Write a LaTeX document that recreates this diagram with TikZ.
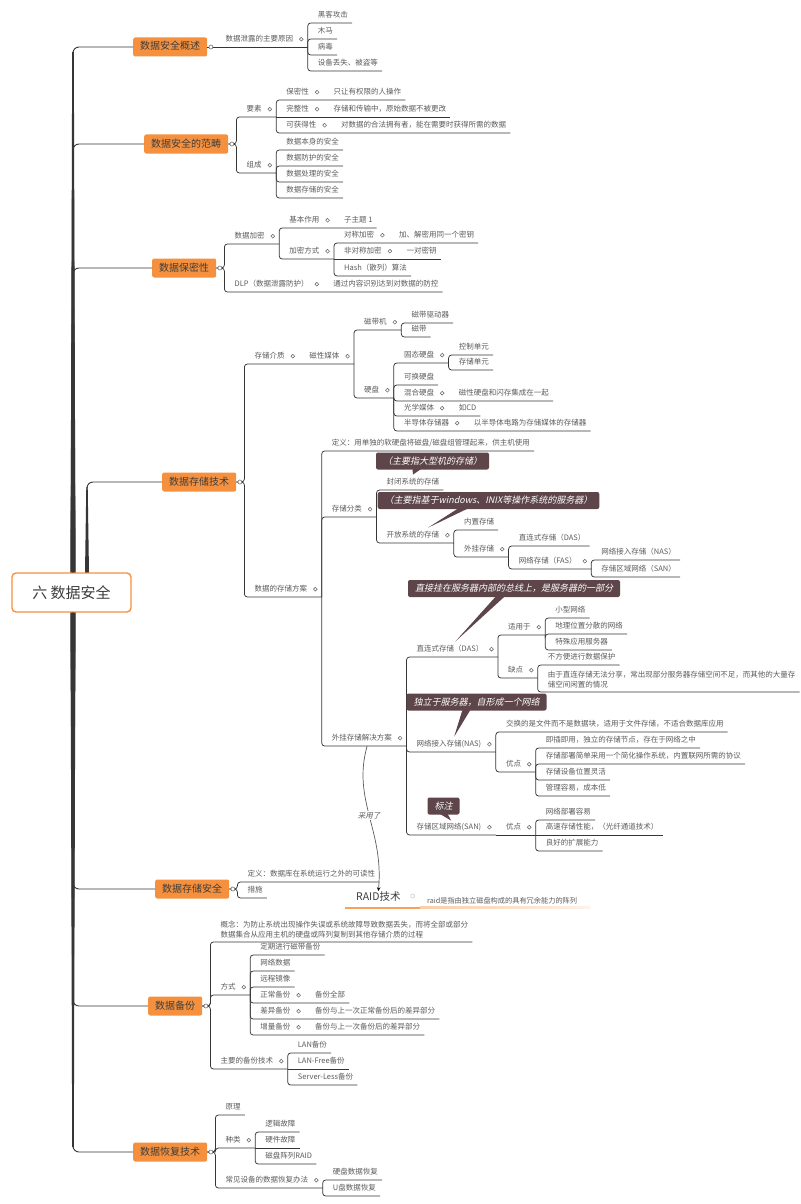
\documentclass[tikz,border=0pt]{standalone}
\usepackage{fontspec}
\setmainfont{Noto Sans CJK SC}
\newfontfamily\notefont[FakeSlant=0.22]{Noto Sans CJK SC}
\usetikzlibrary{calc}

\definecolor{brandor}{HTML}{F5913E}
\definecolor{inkdk}{HTML}{3C3C3C}
\definecolor{inkmd}{HTML}{5C5C5C}
\definecolor{linecol}{HTML}{363636}
\definecolor{notecol}{HTML}{5D454A}

\tikzset{
  root/.style={draw=brandor, line width=1.4pt, fill=white, rounded corners=4pt,
    minimum width=119pt, minimum height=39pt, text=inkdk, font=\fontsize{15}{18}\selectfont},
  branch/.style={fill=brandor, rounded corners=2pt, anchor=west, inner xsep=7pt,
    minimum height=19pt, text height=8pt, text depth=2pt, text=inkdk, font=\fontsize{10}{12}\selectfont},
  topic/.style={anchor=south west, xshift=6pt, inner xsep=4pt, inner ysep=4pt,
    text height=6pt, text depth=1pt, text=inkmd, font=\fontsize{7.5}{10}\selectfont},
  para/.style={anchor=south west, xshift=6pt, inner xsep=4pt, inner ysep=4pt,
    align=left, text=inkmd, font=\fontsize{7.5}{10}\selectfont},
  link/.style={draw=linecol, line width=0.75pt, rounded corners=3pt},
  twig/.style={draw=linecol, line width=0.9pt, rounded corners=6pt},
  trunk/.style={fill=linecol},
  knob/.style={draw=linecol!70, fill=white, line width=0.6pt},
  note/.style={fill=notecol, rounded corners=2pt, inner xsep=7pt, minimum height=17pt,
    text height=7.5pt, text depth=1.5pt, text=white, font=\notefont\fontsize{9}{11}\selectfont},
  rel/.style={draw=inkmd, line width=0.7pt, -stealth},
}
\newcommand\kn{\hspace{6pt}\tikz[baseline=-2.6pt]\draw[knob] (0,0) circle (1.9pt);\hspace{-1.5pt}}

\begin{document}
\begin{tikzpicture}[x=1pt,y=-1pt]
\useasboundingbox[fill=white] (0,0) rectangle (800,1204);

% trunk
\fill[trunk] (70.5,573) -- (75.5,573) -- (73.8,52) -- (72.2,52) -- cycle;
\fill[trunk] (70.5,573) -- (75.5,573) -- (73.8,149) -- (72.2,149) -- cycle;
\fill[trunk] (70.5,573) -- (75.5,573) -- (73.8,273) -- (72.2,273) -- cycle;
\fill[trunk] (85,573) -- (89,573) -- (87.7,487) -- (86.3,487) -- cycle;
\fill[trunk] (70.5,612) -- (75.5,612) -- (73.8,884) -- (72.2,884) -- cycle;
\fill[trunk] (70.5,612) -- (75.5,612) -- (73.8,1001) -- (72.2,1001) -- cycle;
\fill[trunk] (70.5,612) -- (75.5,612) -- (73.8,1147) -- (72.2,1147) -- cycle;

\node[root] (R) at (71.5,592.5) {六 数据安全};
\node[branch] (A) at (133,47) {数据安全概述};
\node[branch] (B) at (144,144) {数据安全的范畴};
\node[branch] (C) at (152,268) {数据保密性};
\node[branch] (D) at (162,482) {数据存储技术};
\node[branch] (E) at (155,889) {数据存储安全};
\node[branch] (F) at (148,1006) {数据备份};
\node[branch] (G) at (133,1152) {数据恢复技术};

\foreach \b in {A,B,C} \draw[twig] (R.north -| 73,0) |- (\b.west);
\draw[twig] (R.north -| 87,0) |- (D.west);
\foreach \b in {E,F,G} \draw[twig] (R.south -| 73,0) |- (\b.west);
\foreach \b in {A,...,G} \path (\b.east) ++(8,0) coordinate (\b b);

% 数据安全概述
\node[topic] (A1) at (Ab |- 0,47) {数据泄露的主要原因\kn};
\node[topic] (A11) at (A1.south east |- 0,23) {黑客攻击};
\node[topic] (A12) at (A1.south east |- 0,39) {木马};
\node[topic] (A13) at (A1.south east |- 0,55) {病毒};
\node[topic] (A14) at (A1.south east |- 0,71) {设备丢失、被盗等};
\draw[link] (A.east) -- (A1.south east);
\foreach \k in {1,...,4} \draw[link] (A1.south east) |- (A1\k.south east);

% 数据安全的范畴
\node[topic] (B1) at (Bb |- 0,117) {要素\kn};
\node[topic] (B11) at (B1.south east |- 0,100) {保密性\kn};
\node[topic] (B11t) at (B11.south east) {只让有权限的人操作};
\node[topic] (B12) at (B1.south east |- 0,117) {完整性\kn};
\node[topic] (B12t) at (B12.south east) {存储和传输中，原始数据不被更改};
\node[topic] (B13) at (B1.south east |- 0,133) {可获得性\kn};
\node[topic] (B13t) at (B13.south east) {对数据的合法拥有者，能在需要时获得所需的数据};
\node[topic] (B2) at (Bb |- 0,173) {组成\kn};
\node[topic] (B21) at (B2.south east |- 0,150) {数据本身的安全};
\node[topic] (B22) at (B2.south east |- 0,166) {数据防护的安全};
\node[topic] (B23) at (B2.south east |- 0,182) {数据处理的安全};
\node[topic] (B24) at (B2.south east |- 0,198) {数据存储的安全};
\foreach \k in {1,2} \draw[link] (B.east) -- (Bb) |- (B\k.south east);
\draw[link] (B1.south east) |- (B11t.south east);
\draw[link] (B1.south east) -- (B12t.south east);
\draw[link] (B1.south east) |- (B13t.south east);
\foreach \k in {1,...,4} \draw[link] (B2.south east) |- (B2\k.south east);

% 数据保密性
\node[topic] (C1) at (Cb |- 0,244) {数据加密\kn};
\node[topic] (C11) at (C1.south east |- 0,228) {基本作用\kn};
\node[topic] (C11t) at (C11.south east) {子主题 1};
\node[topic] (C12) at (C1.south east |- 0,259) {加密方式\kn};
\node[topic] (C121) at (C12.south east |- 0,243) {对称加密\kn};
\node[topic] (C121t) at (C121.south east) {加、解密用同一个密钥};
\node[topic] (C122) at (C12.south east |- 0,259) {非对称加密\kn};
\node[topic] (C122t) at (C122.south east) {一对密钥};
\node[topic] (C123) at (C12.south east |- 0,276) {Hash（散列）算法};
\node[topic] (C2) at (Cb |- 0,292) {DLP（数据泄露防护）\kn};
\node[topic] (C2t) at (C2.south east) {通过内容识别达到对数据的防控};
\draw[link] (C.east) -- (Cb) |- (C1.south east);
\draw[link] (C.east) -- (Cb) |- (C2t.south east);
\draw[link] (C1.south east) |- (C11t.south east);
\draw[link] (C1.south east) |- (C12.south east);
\draw[link] (C12.south east) |- (C121t.south east);
\draw[link] (C12.south east) -- (C122t.south east);
\draw[link] (C12.south east) |- (C123.south east);

% 数据存储技术
\node[topic] (D1) at (Db |- 0,364) {存储介质\kn};
\node[topic] (D1t) at (D1.south east) {磁性媒体\kn};
\node[topic] (D11) at (D1t.south east |- 0,330) {磁带机\kn};
\node[topic] (D111) at (D11.south east |- 0,323) {磁带驱动器};
\node[topic] (D112) at (D11.south east |- 0,337) {磁带};
\node[topic] (D12) at (D1t.south east |- 0,398) {硬盘\kn};
\node[topic] (D121) at (D12.south east |- 0,363) {固态硬盘\kn};
\node[topic] (D1211) at (D121.south east |- 0,355) {控制单元};
\node[topic] (D1212) at (D121.south east |- 0,370) {存储单元};
\node[topic] (D122) at (D12.south east |- 0,385) {可换硬盘};
\node[topic] (D123) at (D12.south east |- 0,401) {混合硬盘\kn};
\node[topic] (D123t) at (D123.south east) {磁性硬盘和闪存集成在一起};
\node[topic] (D124) at (D12.south east |- 0,416) {光学媒体\kn};
\node[topic] (D124t) at (D124.south east) {如CD};
\node[topic] (D125) at (D12.south east |- 0,431) {半导体存储器\kn};
\node[topic] (D125t) at (D125.south east) {以半导体电路为存储媒体的存储器};

\node[topic] (D2) at (Db |- 0,597) {数据的存储方案\kn};
\node[topic] (D21) at (D2.south east |- 0,451) {定义：用单独的软硬盘将磁盘/磁盘组管理起来，供主机使用};
\node[topic] (D22) at (D2.south east |- 0,517) {存储分类\kn};
\node[topic] (D221) at (D22.south east |- 0,490) {封闭系统的存储};
\node[topic] (D222) at (D22.south east |- 0,543) {开放系统的存储\kn};
\node[topic] (D2221) at (D222.south east |- 0,530) {内置存储};
\node[topic] (D2222) at (D222.south east |- 0,557) {外挂存储\kn};
\node[topic] (D2222a) at (D2222.south east |- 0,546) {直连式存储（DAS）};
\node[topic] (D2222b) at (D2222.south east |- 0,569) {网络存储（FAS）\kn};
\node[topic] (D2222b1) at (D2222b.south east |- 0,560) {网络接入存储（NAS）};
\node[topic] (D2222b2) at (D2222b.south east |- 0,577) {存储区域网络（SAN）};

\node[topic] (D23) at (D2.south east |- 0,746) {外挂存储解决方案\kn};
\node[topic] (D231) at (D23.south east |- 0,657) {直连式存储（DAS）\kn};
\node[topic] (D2311) at (D231.south east |- 0,635) {适用于\kn};
\node[topic] (D23111) at (D2311.south east |- 0,618) {小型网络};
\node[topic] (D23112) at (D2311.south east |- 0,634) {地理位置分散的网络};
\node[topic] (D23113) at (D2311.south east |- 0,650) {特殊应用服务器};
\node[topic] (D2312) at (D231.south east |- 0,678) {缺点\kn};
\node[topic] (D23121) at (D2312.south east |- 0,665) {不方便进行数据保护};
\node[para] (D23122) at (D2312.south east |- 0,692) {由于直连存储无法分享，常出现部分服务器存储空间不足，而其他的大量存\\储空间闲置的情况};
\node[topic] (D232) at (D23.south east |- 0,752) {网络接入存储(NAS)\kn};
\node[topic] (D2321) at (D232.south east |- 0,732) {交换的是文件而不是数据块，适用于文件存储，不适合数据库应用};
\node[topic] (D2322) at (D232.south east |- 0,772) {优点\kn};
\node[topic] (D23221) at (D2322.south east |- 0,748) {即插即用，独立的存储节点，存在于网络之中};
\node[topic] (D23222) at (D2322.south east |- 0,764) {存储部署简单采用一个简化操作系统，内置联网所需的协议};
\node[topic] (D23223) at (D2322.south east |- 0,780) {存储设备位置灵活};
\node[topic] (D23224) at (D2322.south east |- 0,796) {管理容易，成本低};
\node[topic] (D233) at (D23.south east |- 0,835) {存储区域网络(SAN)\kn};
\node[topic] (D233t) at (D233.south east) {优点\kn};
\node[topic] (D2331) at (D233t.south east |- 0,820) {网络部署容易};
\node[topic] (D2332) at (D233t.south east |- 0,835) {高速存储性能，（光纤通道技术）};
\node[topic] (D2333) at (D233t.south east |- 0,851) {良好的扩展能力};

\draw[link] (D.east) -- (Db) |- (D1t.south east);
\draw[link] (D.east) -- (Db) |- (D2.south east);
\foreach \k in {1,2} \draw[link] (D1t.south east) |- (D1\k.south east);
\foreach \k in {1,2} \draw[link] (D11.south east) |- (D11\k.south east);
\foreach \k in {1,2} \draw[link] (D12.south east) |- (D12\k.south east);
\foreach \k in {1,2} \draw[link] (D121.south east) |- (D121\k.south east);
\foreach \k in {3,4,5} \draw[link] (D12.south east) |- (D12\k t.south east);
\foreach \k in {1,2,3} \draw[link] (D2.south east) |- (D2\k.south east);
\foreach \k in {1,2} \draw[link] (D22.south east) |- (D22\k.south east);
\foreach \k in {1,2} \draw[link] (D222.south east) |- (D222\k.south east);
\foreach \k in {a,b} \draw[link] (D2222.south east) |- (D2222\k.south east);
\foreach \k in {1,2} \draw[link] (D2222b.south east) |- (D2222b\k.south east);
\foreach \k in {1,2,3} \draw[link] (D23.south east) |- (D23\k.south east);
\foreach \k in {1,2} \draw[link] (D231.south east) |- (D231\k.south east);
\foreach \k in {1,2,3} \draw[link] (D2311.south east) |- (D2311\k.south east);
\foreach \k in {1,2} \draw[link] (D2312.south east) |- (D2312\k.south east);
\foreach \k in {1,2} \draw[link] (D232.south east) |- (D232\k.south east);
\foreach \k in {1,...,4} \draw[link] (D2322.south east) |- (D2322\k.south east);
\draw[link] (D233.south east) -- (D233t.south east);
\draw[link] (D233t.south east) |- (D2331.south east);
\draw[link] (D233t.south east) -- (D2332.south east);
\draw[link] (D233t.south east) |- (D2333.south east);

% 数据存储安全
\node[topic] (E1) at (Eb |- 0,882) {定义：数据库在系统运行之外的可读性};
\node[topic] (E2) at (Eb |- 0,898) {措施};
\foreach \k in {1,2} \draw[link] (E.east) -- (Eb) |- (E\k.south east);

% 数据备份
\node[para] (F1) at (Fb |- 0,942) {概念：为防止系统出现操作失误或系统故障导致数据丢失，而将全部或部分\\数据集合从应用主机的硬盘或阵列复制到其他存储介质的过程};
\node[topic] (F2) at (Fb |- 0,995) {方式\kn};
\node[topic] (F21) at (F2.south east |- 0,955) {定期进行磁带备份};
\node[topic] (F22) at (F2.south east |- 0,971) {网络数据};
\node[topic] (F23) at (F2.south east |- 0,987) {远程镜像};
\node[topic] (F24) at (F2.south east |- 0,1003) {正常备份\kn};
\node[topic] (F24t) at (F24.south east) {备份全部};
\node[topic] (F25) at (F2.south east |- 0,1019) {差异备份\kn};
\node[topic] (F25t) at (F25.south east) {备份与上一次正常备份后的差异部分};
\node[topic] (F26) at (F2.south east |- 0,1035) {增量备份\kn};
\node[topic] (F26t) at (F26.south east) {备份与上一次备份后的差异部分};
\node[topic] (F3) at (Fb |- 0,1069) {主要的备份技术\kn};
\node[topic] (F31) at (F3.south east |- 0,1053) {LAN备份};
\node[topic] (F32) at (F3.south east |- 0,1069) {LAN-Free备份};
\node[topic] (F33) at (F3.south east |- 0,1085) {Server-Less备份};
\foreach \k in {1,2,3} \draw[link] (F.east) -- (Fb) |- (F\k.south east);
\foreach \k in {1,2,3} \draw[link] (F2.south east) |- (F2\k.south east);
\foreach \k in {4,5,6} \draw[link] (F2.south east) |- (F2\k t.south east);
\draw[link] (F3.south east) |- (F31.south east);
\draw[link] (F3.south east) -- (F32.south east);
\draw[link] (F3.south east) |- (F33.south east);

% 数据恢复技术
\node[topic] (G1) at (Gb |- 0,1115) {原理};
\node[topic] (G2) at (Gb |- 0,1148) {种类\kn};
\node[topic] (G21) at (G2.south east |- 0,1132) {逻辑故障};
\node[topic] (G22) at (G2.south east |- 0,1148) {硬件故障};
\node[topic] (G23) at (G2.south east |- 0,1164) {磁盘阵列RAID};
\node[topic] (G3) at (Gb |- 0,1188) {常见设备的数据恢复办法\kn};
\node[topic] (G31) at (G3.south east |- 0,1180) {硬盘数据恢复};
\node[topic] (G32) at (G3.south east |- 0,1196) {U盘数据恢复};
\foreach \k in {1,2,3} \draw[link] (G.east) -- (Gb) |- (G\k.south east);
\draw[link] (G2.south east) |- (G21.south east);
\draw[link] (G2.south east) -- (G22.south east);
\draw[link] (G2.south east) |- (G23.south east);
\foreach \k in {1,2} \draw[link] (G3.south east) |- (G3\k.south east);

\foreach \b in {A,...,G} \draw[knob] (\b.east) ++(3.5,0) circle (2pt);

% RAID
\node[anchor=west, inner sep=1pt, text=inkdk, font=\fontsize{10.5}{12}\selectfont] (RA) at (355,897) {RAID技术};
\node[anchor=west, inner sep=1pt, text=inkmd, font=\fontsize{7.2}{9}\selectfont] (RAt) at (426,901) {raid是指由独立磁盘构成的具有冗余能力的阵列};
\draw[knob, draw=linecol!25] ($(RA.east)+(11,-1)$) circle (2pt);
\fill[brandor!85] (345,906.5) rectangle (420,908.5);
\shade[left color=brandor!45, right color=brandor!12] (420,906.8) rectangle (590,908.2);
\draw[rel] (D23.south) .. controls (352,800) and (384,830) .. (RA.north)
  node[pos=0.5, fill=white, inner sep=1pt, text=inkmd, font=\notefont\fontsize{7.5}{9}\selectfont] (use) {采用了};

% notes
\node[note] (N1) at (432.5,461) {（主要指大型机的存储）};
\node[note] (N2) at (488.5,500.5) {（主要指基于windows、INIX等操作系统的服务器）};
\node[note] (N3) at (514,588.5) {直接挂在服务器内部的总线上，是服务器的一部分};
\node[note] (N4) at (476.5,702) {独立于服务器，自形成一个网络};
\node[note] (N5) at (443.5,806) {标注};
\fill[notecol] ($(N1.south)+(-20,-1)$) -- (D221.north) -- ($(N1.south)+(-11,-1)$) -- cycle;
\fill[notecol] ($(N2.south)+(-30,-1)$) -- ($(D222.north)+(10,0)$) -- ($(N2.south)+(-20,-1)$) -- cycle;
\fill[notecol] ($(N3.south)+(-18,-1)$) -- (D231.north) -- ($(N3.south)+(-9,-1)$) -- cycle;
\fill[notecol] ($(N4.south)+(-14,-1)$) -- (D232.north) -- ($(N4.south)+(-6,-1)$) -- cycle;
\fill[notecol] ($(N5.south)+(-4,-1)$) -- ($(D233.north)+(-3,1)$) -- ($(N5.south)+(4,-1)$) -- cycle;
\end{tikzpicture}
\end{document}
